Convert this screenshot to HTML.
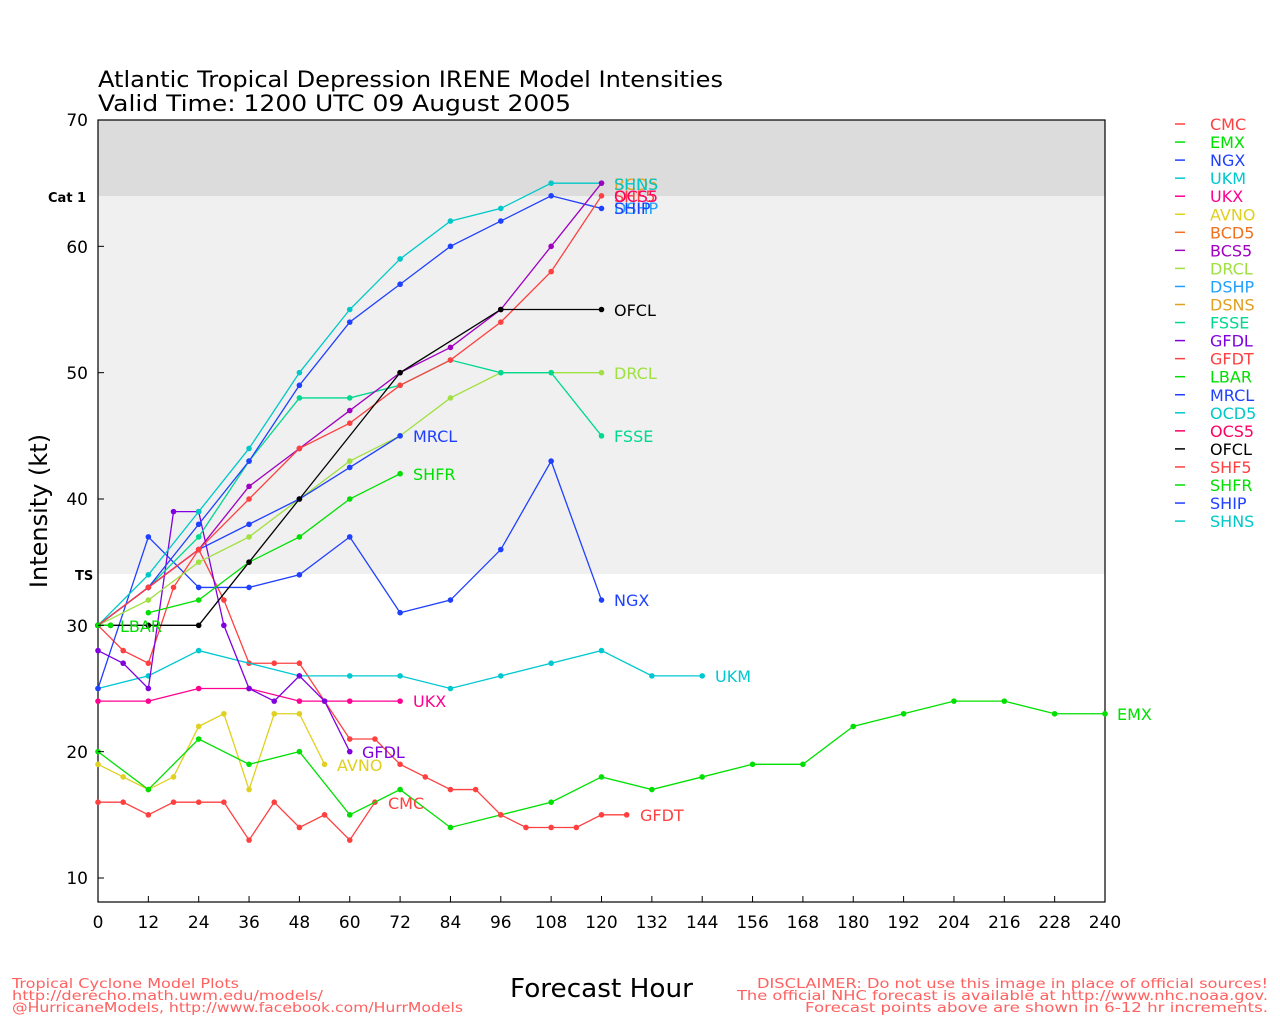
<!DOCTYPE html><html><head><meta charset="utf-8"><style>
body{margin:0;background:#fff}
svg text{font-family:"DejaVu Sans","Liberation Sans",sans-serif}
</style></head><body>
<svg id="s" width="1280" height="1024" xmlns="http://www.w3.org/2000/svg">
<rect x="98" y="120" width="1007" height="76" fill="#dcdcdc"/>
<rect x="98" y="196" width="1007" height="378" fill="#f0f0f0"/>
<rect x="98" y="120" width="1007" height="782" fill="none" stroke="#000" stroke-width="1.2"/>
<text x="98" y="87" font-size="22" textLength="625" lengthAdjust="spacingAndGlyphs">Atlantic Tropical Depression IRENE Model Intensities</text>
<text x="98" y="111" font-size="22" textLength="473" lengthAdjust="spacingAndGlyphs">Valid Time: 1200 UTC 09 August 2005</text>
<text x="48" y="202" font-size="13" font-weight="bold">Cat 1</text>
<text x="75" y="580" font-size="13" font-weight="bold">TS</text>
<text transform="translate(47,511) rotate(-90)" font-size="24" text-anchor="middle">Intensity (kt)</text>
<text x="510" y="997" font-size="26" textLength="183" lengthAdjust="spacingAndGlyphs">Forecast Hour</text>
<g font-size="13" fill="#ff6060">
<text x="12" y="988" textLength="227" lengthAdjust="spacingAndGlyphs">Tropical Cyclone Model Plots</text>
<text x="12" y="1000" textLength="311" lengthAdjust="spacingAndGlyphs">http://derecho.math.uwm.edu/models/</text>
<text x="12" y="1012" textLength="451" lengthAdjust="spacingAndGlyphs">@HurricaneModels, http://www.facebook.com/HurrModels</text>
<text x="757" y="988" textLength="511" lengthAdjust="spacingAndGlyphs">DISCLAIMER: Do not use this image in place of official sources!</text>
<text x="737" y="1000" textLength="531" lengthAdjust="spacingAndGlyphs">The official NHC forecast is available at http://www.nhc.noaa.gov.</text>
<text x="805" y="1012" textLength="463" lengthAdjust="spacingAndGlyphs">Forecast points above are shown in 6-12 hr increments.</text>
</g>
<g font-size="17" text-anchor="end">
<text x="88" y="126">70</text><text x="88" y="253">60</text><text x="88" y="379">50</text><text x="88" y="505">40</text><text x="88" y="632">30</text><text x="88" y="758">20</text><text x="88" y="884">10</text>
</g>
<g id="xt" font-size="17" text-anchor="middle"></g>
<g id="lines"></g>
<g font-size="16">
<text x="614" y="316" fill="#000">OFCL</text>
<text x="614" y="379" fill="#a0e040">DRCL</text>
<text x="614" y="442" fill="#00d890">FSSE</text>
<text x="413" y="442" fill="#2040ff">MRCL</text>
<text x="413" y="480" fill="#00e000">SHFR</text>
<text x="614" y="606" fill="#2040ff">NGX</text>
<text x="715" y="682" fill="#00c8d0">UKM</text>
<text x="413" y="707" fill="#ff0090">UKX</text>
<text x="1117" y="720" fill="#00e000">EMX</text>
<text x="362" y="758" fill="#8000e0">GFDL</text>
<text x="337" y="771" fill="#e0d020">AVNO</text>
<text x="388" y="809" fill="#ff4040">CMC</text>
<text x="640" y="821" fill="#ff4040">GFDT</text>
<text x="120" y="632" fill="#00e000">LBAR</text>
<text x="614" y="190" fill="#e0a020">BCD5</text>
<text x="614" y="190" fill="#00c8c8">SHNS</text>
<text x="614" y="202" fill="#ff4040">SHF5</text>
<text x="614" y="202" fill="#ff0060">OCS5</text>
<text x="614" y="214" fill="#20a0ff">DSHP</text>
<text x="614" y="214" fill="#2040ff">SHIP</text>
</g>
<g id="leg" font-size="16"></g>
</svg>
<script>
var X=h=>98+h*1007/240, Y=v=>120+(70-v)*758/60;
var xt=document.getElementById('xt');
var ns="http://www.w3.org/2000/svg";
function el(t,a,p){var e=document.createElementNS(ns,t);for(var k in a)e.setAttribute(k,a[k]);p.appendChild(e);return e;}
var sv=document.getElementById('s');
for(var h=0;h<=240;h+=12){el('line',{x1:X(h),x2:X(h),y1:902,y2:896,stroke:'#000'},sv);var t=el('text',{x:X(h),y:928},xt);t.textContent=h;}
for(var v=10;v<=70;v+=10){el('line',{x1:98,x2:104,y1:Y(v),y2:Y(v),stroke:'#000'},sv);}
var S=[
['#e0d020',[[0,19],[6,18],[12,17],[18,18],[24,22],[30,23],[36,17],[42,23],[48,23],[54,19]]],
['#ff4040',[[0,16],[6,16],[12,15],[18,16],[24,16],[30,16],[36,13],[42,16],[48,14],[54,15],[60,13],[66,16]]],
['#00e000',[[0,20],[12,17],[24,21],[36,19],[48,20],[60,15],[72,17],[84,14],[96,15],[108,16],[120,18],[132,17],[144,18],[156,19],[168,19],[180,22],[192,23],[204,24],[216,24],[228,23],[240,23]]],
['#ff4040',[[0,30],[6,28],[12,27],[18,33],[24,36],[30,32],[36,27],[42,27],[48,27],[54,24],[60,21],[66,21],[72,19],[78,18],[84,17],[90,17],[96,15],[102,14],[108,14],[114,14],[120,15],[126,15]]],
['#00c8d0',[[0,25],[12,26],[24,28],[48,26],[60,26],[72,26],[84,25],[96,26],[108,27],[120,28],[132,26],[144,26]]],
['#ff0090',[[0,24],[12,24],[24,25],[36,25],[48,24],[60,24],[72,24]]],
['#2040ff',[[0,25],[12,37],[24,33],[36,33],[48,34],[60,37],[72,31],[84,32],[96,36],[108,43],[120,32]]],
['#8000e0',[[0,28],[6,27],[12,25],[18,39],[24,39],[30,30],[36,25],[42,24],[48,26],[54,24],[60,20]]],
['#00e000',[[12,31],[24,32],[36,35],[48,37],[60,40],[72,42]]],
['#a0e040',[[0,30],[12,32],[24,35],[36,37],[48,40],[60,43],[72,45],[84,48],[96,50],[108,50],[120,50]]],
['#2040ff',[[0,30],[12,33],[24,36],[36,38],[48,40],[60,42.5],[72,45]]],
['#00d890',[[0,30],[12,33],[24,37],[36,43],[48,48],[60,48],[72,49],[84,51],[96,50],[108,50],[120,45]]],
['#00c8c8',[[0,30],[12,34],[24,39],[36,44],[48,50],[60,55],[72,59],[84,62],[96,63],[108,65],[120,65]]],
['#2040ff',[[0,30],[12,33],[24,38],[36,43],[48,49],[60,54],[72,57],[84,60],[96,62],[108,64],[120,63]]],
['#a000c0',[[0,30],[12,33],[24,36],[36,41],[48,44],[60,47],[72,50],[84,52],[96,55],[108,60],[120,65]]],
['#ff4040',[[0,30],[12,33],[24,36],[36,40],[48,44],[60,46],[72,49],[84,51],[96,54],[108,58],[120,64]]],
['#000000',[[0,30],[3,30],[12,30],[24,30],[36,35],[48,40],[72,50],[96,55],[120,55]]],
['#00e000',[[0,30],[3,30]]]
];
var g=document.getElementById('lines');
S.forEach(function(s){el('polyline',{points:s[1].map(p=>X(p[0])+','+Y(p[1])).join(' '),fill:'none',stroke:s[0],'stroke-width':1.3},g);
s[1].forEach(p=>el('circle',{cx:X(p[0]),cy:Y(p[1]),r:2.8,fill:s[0]},g));});
var L=[['CMC','#ff4040'],['EMX','#00e000'],['NGX','#2040ff'],['UKM','#00c8d0'],['UKX','#ff0090'],['AVNO','#e0d020'],['BCD5','#f07020'],['BCS5','#a000c0'],['DRCL','#a0e040'],['DSHP','#20a0ff'],['DSNS','#e0a020'],['FSSE','#00d890'],['GFDL','#8000e0'],['GFDT','#ff4040'],['LBAR','#00e000'],['MRCL','#2040ff'],['OCD5','#00c8c8'],['OCS5','#ff0060'],['OFCL','#000000'],['SHF5','#ff4040'],['SHFR','#00e000'],['SHIP','#2040ff'],['SHNS','#00c8c8']];
var lg=document.getElementById('leg');
L.forEach(function(l,i){var y=124+i*18.05;el('line',{x1:1175,x2:1185,y1:y,y2:y,stroke:l[1],'stroke-width':1.5},lg);var t=el('text',{x:1210,y:y+6,fill:l[1]},lg);t.textContent=l[0];});
</script>
</body></html>
